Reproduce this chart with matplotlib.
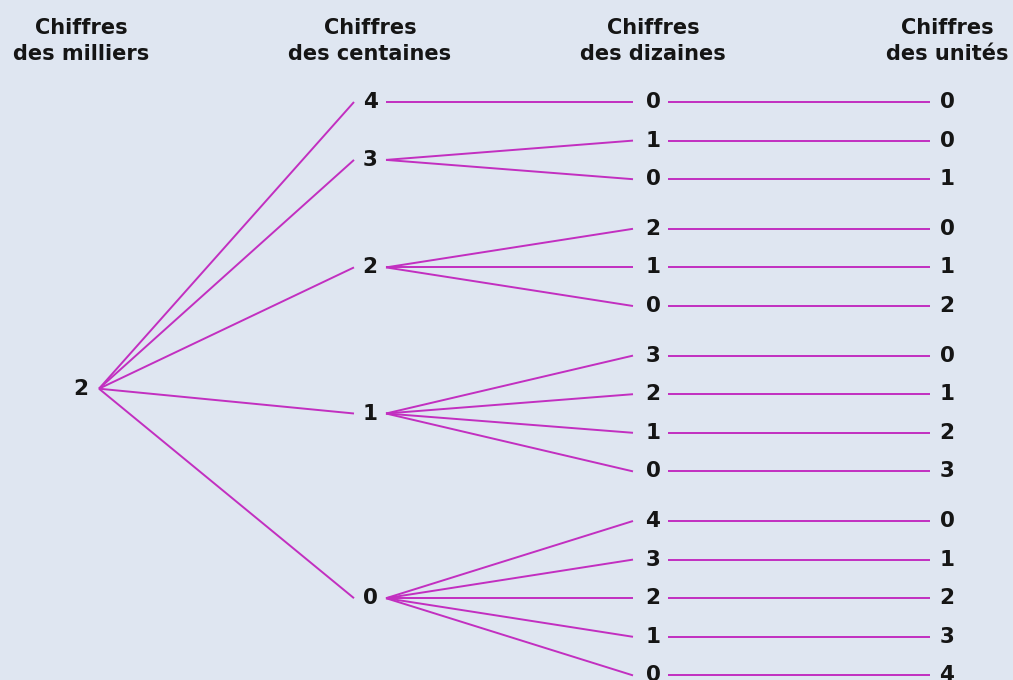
import matplotlib
matplotlib.use("Agg")
import matplotlib.pyplot as plt

# arbre des nombres de 4 chiffres commençant par 2 (somme des chiffres = 6)
titres = ["Chiffres\ndes milliers", "Chiffres\ndes centaines", "Chiffres\ndes dizaines", "Chiffres\ndes unités"]
milliers = 2
centaines = [4, 3, 2, 1, 0]
dizaines = [[0], [1, 0], [2, 1, 0], [3, 2, 1, 0], [4, 3, 2, 1, 0]]
unites = [[0], [0, 1], [0, 1, 2], [0, 1, 2, 3], [0, 1, 2, 3, 4]]

fond = "#dfe6f1"
rose = "#c22fc0"
police = ["DejaVu Sans"]

# mise en page (pixels)
W, H = 1013, 680
col_x = [81, 370, 653, 947]
y0, pas, ecart = 102, 38.6, 11
gap_groupes = [0, 0, 1, 2, 3]  # écart supplémentaire avant chaque groupe

fig = plt.figure(figsize=(W / 100, H / 100), dpi=100)
fig.patch.set_facecolor(fond)
ax = fig.add_axes([0, 0, 1, 1])
ax.set_facecolor(fond)
ax.set_xlim(0, W)
ax.set_ylim(H, 0)
ax.axis("off")

for x, t in zip(col_x, titres):
    ax.text(x, 41, t, ha="center", va="center", fontsize=15, fontweight="bold",
            family=police, color="#151515", linespacing=1.4)

def chiffre(x, y, v):
    ax.text(x, y, str(v), ha="center", va="center", fontsize=15.5, fontweight="bold",
            family=police, color="#151515")

def trait(x1, y1, x2, y2):
    ax.plot([x1, x2], [y1, y2], color=rose, lw=1.4, solid_capstyle="butt")

# positions des lignes
rang = 0
lignes_c = []
for g, (c, ds, us) in enumerate(zip(centaines, dizaines, unites)):
    ys = []
    for d, u in zip(ds, us):
        y = y0 + pas * rang + ecart * gap_groupes[g]
        ys.append(y)
        rang += 1
        chiffre(col_x[2], y, d)
        chiffre(col_x[3], y, u)
        trait(col_x[2] + 15, y, col_x[3] - 17, y)
    yc = sum(ys) / len(ys)
    lignes_c.append(yc)
    chiffre(col_x[1], yc, c)
    for y in ys:
        trait(col_x[1] + 16, yc, col_x[2] - 20, y)

ym = (y0 + y) / 2
chiffre(col_x[0], ym, milliers)
for yc in lignes_c:
    trait(col_x[0] + 18, ym, col_x[1] - 16, yc)

fig.savefig("out.png", dpi=100, facecolor=fond)
